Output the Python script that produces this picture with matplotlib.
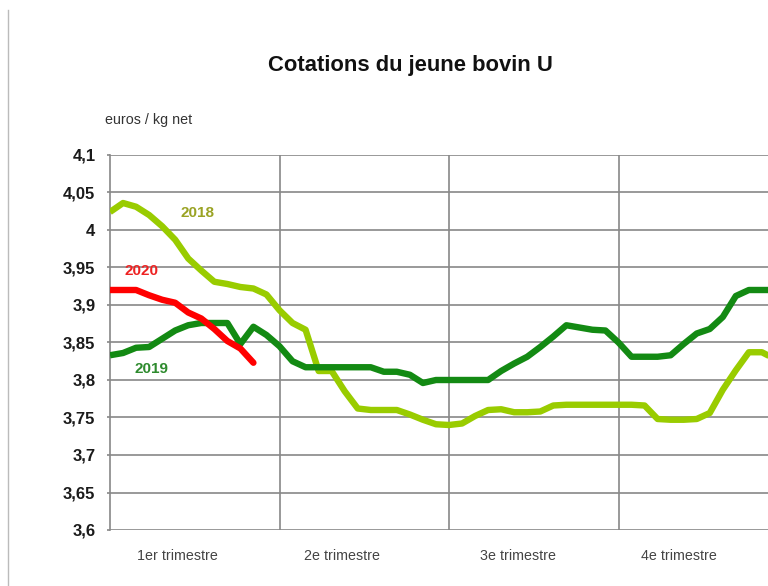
import matplotlib
matplotlib.use("Agg")
import matplotlib.pyplot as plt
from matplotlib.lines import Line2D
import numpy as np

plt.rcParams['font.family'] = ['Liberation Sans', 'DejaVu Sans']

weeks_2018 = list(range(52))
values_2018 = [4.024, 4.036, 4.031, 4.020, 4.005, 3.987, 3.962, 3.946, 3.931, 3.928,
               3.924, 3.922, 3.914, 3.893, 3.876, 3.867, 3.812, 3.812, 3.785, 3.762,
               3.760, 3.760, 3.760, 3.754, 3.747, 3.741, 3.740, 3.742, 3.752, 3.760,
               3.761, 3.757, 3.757, 3.758, 3.766, 3.767, 3.767, 3.767, 3.767, 3.767,
               3.767, 3.766, 3.748, 3.747, 3.747, 3.748, 3.756, 3.787, 3.813, 3.837,
               3.837, 3.828]
values_2019 = [3.833, 3.836, 3.843, 3.844, 3.855, 3.866, 3.873, 3.876, 3.876, 3.876,
               3.848, 3.871, 3.860, 3.845, 3.825, 3.817, 3.817, 3.817, 3.817, 3.817,
               3.817, 3.811, 3.811, 3.807, 3.796, 3.800, 3.800, 3.800, 3.800, 3.800,
               3.812, 3.822, 3.831, 3.844, 3.858, 3.873, 3.870, 3.867, 3.866, 3.850,
               3.831, 3.831, 3.831, 3.833, 3.848, 3.862, 3.868, 3.884, 3.912, 3.920,
               3.920, 3.920]
values_2020 = [3.920, 3.920, 3.920, 3.913, 3.907, 3.903, 3.890, 3.882, 3.868, 3.852,
               3.842, 3.823]

quarter_labels = ["1er trimestre", "2e trimestre", "3e trimestre", "4e trimestre"]
quarter_label_pos = [5.2, 17.8, 31.3, 43.6]
y_ticks = [3.6, 3.65, 3.7, 3.75, 3.8, 3.85, 3.9, 3.95, 4.0, 4.05, 4.1]
y_tick_labels = ["3,6", "3,65", "3,7", "3,75", "3,8", "3,85", "3,9", "3,95", "4", "4,05", "4,1"]

fig = plt.figure(figsize=(7.68, 5.86), dpi=100)
ax = fig.add_axes([110/768, 56/586, 678/768, 375/586])

c2018 = "#99cc00"
c2019 = "#138a13"
c2020 = "#ff0000"

x18 = np.arange(len(values_2018))
x19 = np.arange(len(values_2019))
x20 = np.arange(len(values_2020))
ax.plot(x18, values_2018, color=c2018, lw=4.6, solid_capstyle='butt', zorder=3)
ax.plot(x19, values_2019, color=c2019, lw=4.6, solid_capstyle='butt', zorder=4)
ax.plot(x20, values_2020, color=c2020, lw=4.6, solid_capstyle='round', zorder=5)

ax.set_xlim(0, 52)
ax.set_ylim(3.6, 4.1)
ax.set_yticks(y_ticks)
ax.set_yticklabels(y_tick_labels, fontsize=12, fontweight='bold', color='#1a1a1a')
ax.set_xticks([13, 26, 39, 52])
ax.set_xticklabels([])
ax.tick_params(axis='x', length=0)
ax.tick_params(axis='y', length=2.5, color='#888888', width=1.2, pad=8)

ax.set_xticks(quarter_label_pos, minor=True)
ax.set_xticklabels(quarter_labels, minor=True, fontsize=10.3, color='#444444')
ax.tick_params(axis='x', which='minor', length=0, pad=14)

ax.grid(True, which='major', color='#888888', lw=1.2, zorder=1)
for s in ['top', 'right', 'bottom']:
    ax.spines[s].set_visible(False)
ax.spines['left'].set_color('#888888')
ax.spines['left'].set_linewidth(1.2)

ax.text(6.7, 4.023, "2018", color="#9aa324", fontsize=11, fontweight='bold', ha='center', va='center')
ax.text(2.4, 3.945, "2020", color="#ee2222", fontsize=11, fontweight='bold', ha='center', va='center')
ax.text(3.2, 3.815, "2019", color="#2e8b2e", fontsize=11, fontweight='bold', ha='center', va='center')

fig.text(410/768, 1 - 66/586, "Cotations du jeune bovin U", fontsize=15.8, fontweight='bold',
         ha='center', va='center', color='#111111')
fig.text(105/768, 1 - 120/586, "euros / kg net", fontsize=10.3,
         ha='left', va='center', color='#333333')

fig.add_artist(Line2D([8/768, 8/768], [0, 1 - 10/586], transform=fig.transFigure, color='#bbbbbb', lw=1))

fig.savefig("out.png", dpi=100)
